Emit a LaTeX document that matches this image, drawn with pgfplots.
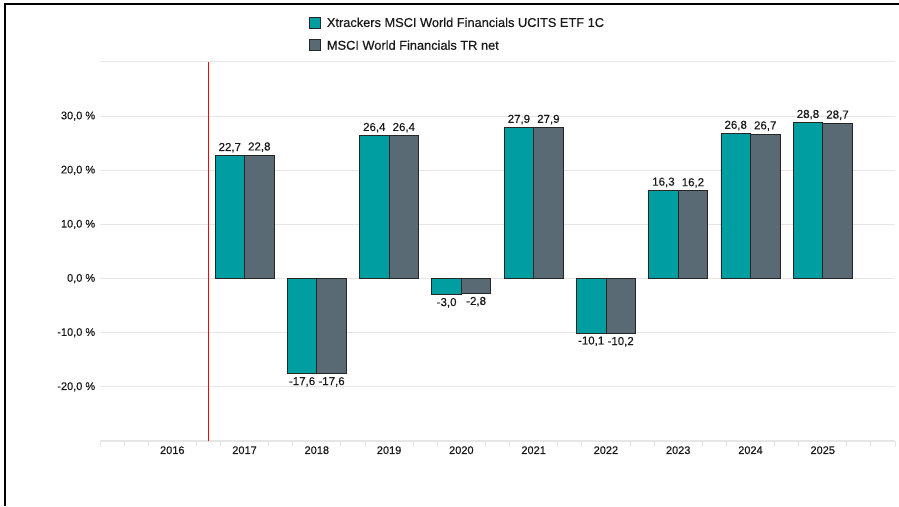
\documentclass[border=0pt]{standalone}
\usepackage{pgfplots}
\pgfplotsset{compat=1.18}
\usepackage{fontspec}
\setmainfont{Liberation Sans}
\newfontfamily\semib[FakeBold=0.4]{Liberation Sans}
\definecolor{teal1}{RGB}{0,158,160}
\definecolor{slate1}{RGB}{90,106,116}
\definecolor{gridc}{RGB}{230,230,230}
\definecolor{txt}{RGB}{25,25,25}
\begin{document}
\begin{tikzpicture}
\path[use as bounding box] (0,0) rectangle (899pt,506pt);
\draw[black, line width=1.5pt] (5pt,0) -- (5pt,502pt) -- (899pt,502pt);
\begin{axis}[
  at={(100pt,65pt)}, anchor=south west,
  scale only axis, width=795pt, height=379pt,
  xmin=-1, xmax=10, ymin=-30, ymax=40,
  separate axis lines,
  axis x line*=bottom, axis y line*=left,
  y axis line style={draw=none},
  x axis line style={draw=gridc, line width=2.5pt},
  ybar=0pt, bar width=29.5pt,
  xtick={0,...,9},
  xticklabels={2016,2017,2018,2019,2020,2021,2022,2023,2024,2025},
  major x tick style={draw=none},
  minor xtick={-1,-0.6667,-0.3333,0.3333,0.6667,1.3333,1.6667,2.3333,2.6667,3.3333,3.6667,4.3333,4.6667,5.3333,5.6667,6.3333,6.6667,7.3333,7.6667,8.3333,8.6667,9.3333,9.6667,10},
  minor x tick style={draw=gridc, line width=1pt},
  minor tick length=6pt,
  tick align=outside,
  ytick={-20,-10,0,10,20,30,40},
  yticklabels={{-20,0 \%},{-10,0 \%},{0,0 \%},{10,0 \%},{20,0 \%},{30,0 \%},{}},
  major y tick style={draw=none},
  ymajorgrids, major grid style={draw=gridc, line width=1pt},
  ticklabel style={font=\semib\fontsize{11}{13}\selectfont, text=txt},
  yticklabel style={xshift=3pt},
  xticklabel style={yshift=2.5pt},
  nodes near coords,
  nodes near coords style={font=\semib\fontsize{11.5}{13}\selectfont, text=txt, inner sep=2.8pt},
  /pgf/number format/fixed, /pgf/number format/fixed zerofill,
  /pgf/number format/precision=1, /pgf/number format/use comma,
  /pgf/number format/assume math mode=true,
  legend style={at={(0.259,1.128)}, anchor=north west, draw=none, fill=none,
    font=\semib\fontsize{12.8}{15}\selectfont, text=txt, row sep=8pt, cells={anchor=west}},
  legend cell align=left,
  legend image code/.code={\draw[#1, draw=black!85, line width=0.8pt] (0pt,-5pt) rectangle (11pt,6pt);},
  clip=false,
]
\addplot[fill=teal1, draw=black!85, line width=0.8pt] coordinates {
 (1,22.7) (2,-17.6) (3,26.4) (4,-3.0) (5,27.9) (6,-10.1) (7,16.3) (8,26.8) (9,28.8)};
\addlegendentry{\hspace{4pt}Xtrackers MSCI World Financials UCITS ETF 1C}
\addplot[fill=slate1, draw=black!85, line width=0.8pt] coordinates {
 (1,22.8) (2,-17.6) (3,26.4) (4,-2.8) (5,27.9) (6,-10.2) (7,16.2) (8,26.7) (9,28.7)};
\addlegendentry{\hspace{4pt}MSCI World Financials TR net}
\draw[red, line width=1pt] (axis cs:0.5,-30) -- (axis cs:0.5,40);
\end{axis}
\end{tikzpicture}
\end{document}
